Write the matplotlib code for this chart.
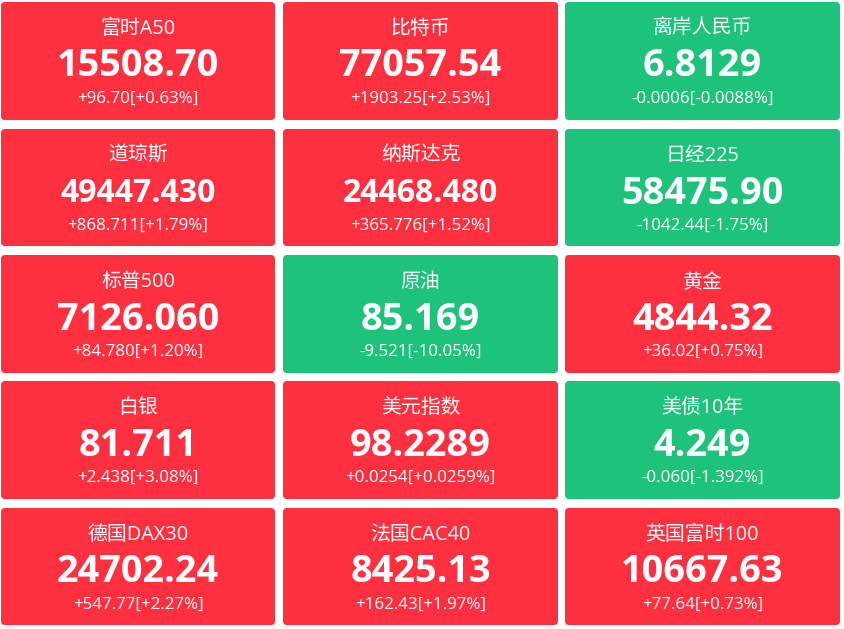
import matplotlib
matplotlib.use("Agg")
import matplotlib.pyplot as plt
from matplotlib.patches import FancyBboxPatch

names = ["富时A50","比特币","离岸人民币","道琼斯","纳斯达克","日经225","标普500","原油","黄金",
         "白银","美元指数","美债10年","德国DAX30","法国CAC40","英国富时100"]
prices = ["15508.70","77057.54","6.8129","49447.430","24468.480","58475.90","7126.060","85.169","4844.32",
          "81.711","98.2289","4.249","24702.24","8425.13","10667.63"]
changes = ["+96.70[+0.63%]","+1903.25[+2.53%]","-0.0006[-0.0088%]","+868.711[+1.79%]","+365.776[+1.52%]",
           "-1042.44[-1.75%]","+84.780[+1.20%]","-9.521[-10.05%]","+36.02[+0.75%]","+2.438[+3.08%]",
           "+0.0254[+0.0259%]","-0.060[-1.392%]","+547.77[+2.27%]","+162.43[+1.97%]","+77.64[+0.73%]"]
RED, GREEN = "#fe303f", "#1dc27b"

W, H = 844, 629
fig = plt.figure(figsize=(W/100, H/100), dpi=100, facecolor="white")
ax = fig.add_axes([0, 0, 1, 1])
ax.set_xlim(0, W); ax.set_ylim(H, 0); ax.axis("off")
FAM = ["Open Sans", "Noto Sans CJK SC", "DejaVu Sans"]
xs = [(1, 275), (283, 558), (565, 840)]
ys = [(2, 120), (129, 246), (255, 373), (381, 499), (508, 625)]
for i, n in enumerate(names):
    x0, x1 = xs[i % 3]; y0, y1 = ys[i // 3]
    c = GREEN if changes[i].startswith("-") else RED
    ax.add_patch(FancyBboxPatch((x0+3, y0+3), x1-x0-6, y1-y0-6, boxstyle="round,pad=3,rounding_size=4",
                                fc=c, ec="none"))
    xc = (x0+x1)/2
    ax.text(xc, y0+27, n, color="white", fontsize=14.3, ha="center", va="center", family=FAM)
    size = 23 if i in (3, 4) else 27.3
    ax.text(xc, y0+60, prices[i], color="white", fontsize=size, ha="center", va="center_baseline", family=FAM, fontweight="bold")
    ax.text(xc, y0+96.5, changes[i], color="white", fontsize=12.2, ha="center", va="center", family=FAM)
fig.savefig("out.png", dpi=100, facecolor="white")
